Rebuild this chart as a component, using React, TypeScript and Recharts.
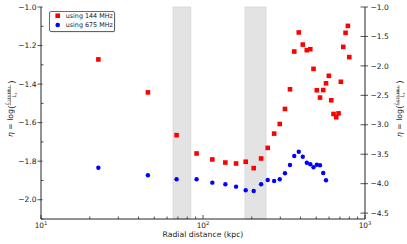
import { ComposedChart, Scatter, XAxis, YAxis, ReferenceArea, Legend } from 'recharts';

const W = 407;
const H = 244;
const FONT = '"DejaVu Sans", sans-serif';
const INK = '#1a1a1a';
const AXIS = '#262626';

// radial distance of each annulus (kpc)
const distance = [
  22.6, 45.7, 68.7, 91.3, 114.2, 137.4, 160, 183.5, 205.6, 228.4, 250.9, 274.9, 297.7, 320.6, 344.2, 365.9,
  390.1, 413, 437.2, 459.6, 481, 504.2, 527.6, 552.2, 574.6, 598, 618.9, 639.5, 664.6, 686.7, 709.6, 734.3,
  758.6, 784, 799.8,
];
// eta from the 144 MHz map (left axis)
const eta144 = [
  -1.272, -1.443, -1.665, -1.76, -1.791, -1.807, -1.812, -1.803, -1.836, -1.786, -1.731, -1.657, -1.607, -1.529,
  -1.427, -1.231, -1.132, -1.195, -1.224, -1.219, -1.321, -1.432, -1.47, -1.431, -1.396, -1.357, -1.484, -1.555,
  -1.572, -1.552, -1.388, -1.207, -1.134, -1.098, -1.26,
];
// eta from the 675 MHz map (right axis), only the inner annuli
const eta675 = [
  -3.729, -3.858, -3.925, -3.925, -3.983, -4.01, -4.051, -4.112, -4.124, -4.01, -3.937, -3.954, -3.925, -3.824,
  -3.683, -3.531, -3.458, -3.542, -3.644, -3.671, -3.722, -3.678, -3.688, -3.819, -3.942,
];
// shaded radial ranges (kpc)
const bands = [
  [65.3, 84],
  [181.6, 244.7],
];

const xMajor = [10, 100, 1000];
const xTicks = [10, 20, 30, 40, 50, 60, 70, 80, 90, 100, 200, 300, 400, 500, 600, 700, 800, 900, 1000];
const leftTicks = [-2.1, -2.0, -1.9, -1.8, -1.7, -1.6, -1.5, -1.4, -1.3, -1.2, -1.1, -1.0];
const rightTicks = [-4.5, -4.0, -3.5, -3.0, -2.5, -2.0, -1.5, -1.0];

const legendItems = [
  { label: 'using 144 MHz', color: '#ff0000', shape: 'square' },
  { label: 'using 675 MHz', color: '#0000ff', shape: 'circle' },
];

const pts144 = distance.map((r, i) => ({ r, eta: eta144[i] }));
const pts675 = eta675.map((eta, i) => ({ r: distance[i], eta }));

const fmt = (v: number) => `${v < 0 ? '\u2212' : ''}${Math.abs(v).toFixed(1)}`;
const isMajorLeft = (v: number) => Math.abs(v * 5 - Math.round(v * 5)) < 1e-6;

function BottomTick({ x, y, payload }: any) {
  const v = payload.value;
  const major = xMajor.includes(v);
  return (
    <g>
      <line x1={x} x2={x} y1={y} y2={y - (major ? 4 : 2.5)} stroke={AXIS} strokeWidth={0.8} />
      {major && (
        <text x={x} y={y + 9} textAnchor="middle" fontSize={7.4} fontFamily={FONT} fill={INK}>
          10
          <tspan dy={-3.2} fontSize={5.2}>
            {Math.round(Math.log10(v))}
          </tspan>
        </text>
      )}
    </g>
  );
}

function TopTick({ x, y, payload }: any) {
  const major = xMajor.includes(payload.value);
  return <line x1={x} x2={x} y1={y} y2={y + (major ? 5 : 2.7)} stroke={AXIS} strokeWidth={0.8} />;
}

function LeftTick({ x, y, payload }: any) {
  const v = payload.value;
  if (!isMajorLeft(v)) return <line x1={x} x2={x + 2.5} y1={y} y2={y} stroke={AXIS} strokeWidth={0.8} />;
  return (
    <g>
      <line x1={x - 3.5} x2={x + 1.5} y1={y} y2={y} stroke={AXIS} strokeWidth={0.8} />
      <text x={x - 4.5} y={y + 2.7} textAnchor="end" fontSize={7.5} fontFamily={FONT} fill={INK}>
        {fmt(v)}
      </text>
    </g>
  );
}

function RightTick({ x, y, payload }: any) {
  return (
    <g>
      <line x1={x - 4.5} x2={x + 3} y1={y} y2={y} stroke={AXIS} strokeWidth={0.8} />
      <text x={x + 5.5} y={y + 2.7} textAnchor="start" fontSize={7.5} fontFamily={FONT} fill={INK}>
        {fmt(payload.value)}
      </text>
    </g>
  );
}

// η = log(L_sub / L_x), drawn bottom-to-top with its baseline at x = bx
function EtaLabel({ bx, cy, sub }: { bx: number; cy: number; sub: string }) {
  const s = -30;
  return (
    <g transform={`translate(${bx},${cy}) rotate(-90)`} fontFamily={FONT} fill={INK}>
      <text x={s} y={0} fontSize={7.7}>
        <tspan fontStyle="italic">η</tspan> = log
      </text>
      <text x={s + 28} y={1.6} fontSize={9.5}>
        (
      </text>
      <text x={s + 32} y={-4} fontSize={5.4} fontStyle="italic">
        L
        <tspan fontSize={3.5} fontStyle="normal" dy={1}>
          {sub}
        </tspan>
      </text>
      <line x1={s + 31.5} x2={s + 52} y1={-2.6} y2={-2.6} stroke={INK} strokeWidth={0.45} />
      <text x={s + 39.5} y={2.8} fontSize={5.4} fontStyle="italic">
        L<tspan fontSize={3.5} dy={1}>x</tspan>
      </text>
      <text x={s + 53} y={1.6} fontSize={9.5}>
        )
      </text>
    </g>
  );
}

function LegendBox() {
  return (
    <svg width={68} height={23} style={{ display: 'block' }}>
      <rect x={1.2} y={1.2} width={65} height={20} rx={1.5} fill="#b5b5b5" />
      <rect x={0.5} y={0.5} width={65} height={20} rx={1.5} fill="#fff" stroke="#444" strokeWidth={0.8} />
      {legendItems.map((it, i) => {
        const cy = 4.7 + i * 9.3;
        return (
          <g key={it.label}>
            {it.shape === 'square' ? (
              <rect x={6.4} y={cy - 2.3} width={4.6} height={4.6} fill={it.color} />
            ) : (
              <circle cx={8.7} cy={cy} r={2.3} fill={it.color} />
            )}
            <text x={16.7} y={cy + 2.4} fontSize={6.4} fontFamily={FONT} fill={INK}>
              {it.label}
            </text>
          </g>
        );
      })}
    </svg>
  );
}

export default function App() {
  return (
    <div style={{ position: 'absolute', left: 0, top: 0, width: W, height: H, background: '#fff' }}>
      <ComposedChart width={W} height={H} margin={{ top: 7, right: 0, bottom: 0, left: 0 }}>
        <XAxis
          dataKey="r"
          type="number"
          scale="log"
          domain={[10, 1000]}
          allowDataOverflow
          ticks={xTicks}
          interval={0}
          height={25}
          tickSize={0}
          tickMargin={0}
          tickLine={false}
          tick={<BottomTick />}
          axisLine={{ stroke: AXIS, strokeWidth: 1 }}
          label={(p: any) => (
            <text
              x={p.viewBox.x + p.viewBox.width / 2}
              y={p.viewBox.y + 18}
              textAnchor="middle"
              fontSize={7.7}
              fontFamily={FONT}
              fill={INK}
            >
              Radial distance (kpc)
            </text>
          )}
        />
        <XAxis
          xAxisId="top"
          orientation="top"
          dataKey="r"
          type="number"
          scale="log"
          domain={[10, 1000]}
          allowDataOverflow
          ticks={xTicks}
          interval={0}
          height={0}
          tickSize={0}
          tickMargin={0}
          tickLine={false}
          tick={<TopTick />}
          axisLine={{ stroke: AXIS, strokeWidth: 1 }}
        />
        <YAxis
          yAxisId="left"
          type="number"
          domain={[-2.1, -1.0]}
          allowDataOverflow
          ticks={leftTicks}
          interval={0}
          width={41}
          tickSize={0}
          tickMargin={0}
          tickLine={false}
          tick={<LeftTick />}
          axisLine={{ stroke: AXIS, strokeWidth: 1 }}
          label={() => <EtaLabel bx={13} cy={107} sub="144 MHz" />}
        />
        <YAxis
          yAxisId="right"
          orientation="right"
          type="number"
          domain={[-4.6, -1.0]}
          allowDataOverflow
          ticks={rightTicks}
          interval={0}
          width={42}
          tickSize={0}
          tickMargin={0}
          tickLine={false}
          tick={<RightTick />}
          axisLine={{ stroke: AXIS, strokeWidth: 1 }}
          label={() => <EtaLabel bx={401.5} cy={107} sub="675 MHz" />}
        />
        {bands.map(([a, b]) => (
          <ReferenceArea
            key={a}
            yAxisId="left"
            x1={a}
            x2={b}
            fill="#e3e3e3"
            fillOpacity={1}
            stroke="#d6d6d6"
            strokeWidth={0.8}
          />
        ))}
        <Legend
          layout="horizontal"
          verticalAlign="middle"
          align="center"
          wrapperStyle={{ left: 49, top: 11, width: 68, height: 23 }}
          content={() => <LegendBox />}
        />
        <Scatter
          data={pts144}
          dataKey="eta"
          yAxisId="left"
          isAnimationActive={false}
          shape={(p: any) => <rect x={p.cx - 2.3} y={p.cy - 2.3} width={4.6} height={4.6} fill="#ff0000" />}
        />
        <Scatter
          data={pts675}
          dataKey="eta"
          yAxisId="right"
          isAnimationActive={false}
          shape={(p: any) => <circle cx={p.cx} cy={p.cy} r={2.2} fill="#0000ff" />}
        />
      </ComposedChart>
    </div>
  );
}
